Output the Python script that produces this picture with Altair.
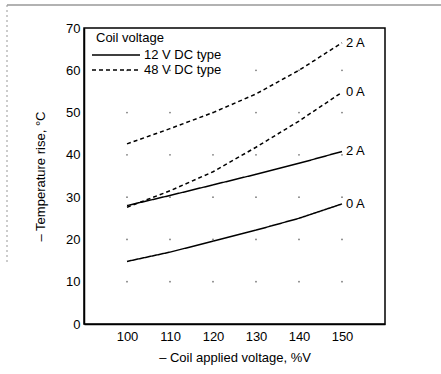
import altair as alt
import pandas as pd

# ---- data ----
x_vals = [100, 110, 120, 130, 140, 150]
v12_0a = [14.8, 17.0, 19.6, 22.2, 25.0, 28.4]
v12_2a = [28.0, 30.4, 32.9, 35.4, 38.0, 40.8]
v48_0a = [27.6, 31.5, 36.0, 41.8, 48.0, 54.8]
v48_2a = [42.6, 46.2, 50.0, 54.4, 60.0, 66.5]
series_values = [v12_0a, v12_2a, v48_0a, v48_2a]
series_types = ["12 V DC type", "12 V DC type", "48 V DC type", "48 V DC type"]
series_currents = ["0 A", "2 A", "0 A", "2 A"]
legend_title = "Coil voltage"
legend_types = ["12 V DC type", "48 V DC type"]
x_ticks = [100, 110, 120, 130, 140, 150]
y_ticks = [0, 10, 20, 30, 40, 50, 60, 70]
grid_x = [100, 110, 120, 130, 140, 150]
grid_y = [10, 20, 30, 40, 50, 60]

FONT = "Liberation Sans"

rows = []
for vals, t, c in zip(series_values, series_types, series_currents):
    for xv, yv in zip(x_vals, vals):
        rows.append({"x": xv, "y": yv, "type": t, "series": t + " " + c, "cur": c})
df = pd.DataFrame(rows)
last = df[df["x"] == x_vals[-1]]
grid = pd.DataFrame([{"x": gx, "y": gy} for gx in grid_x for gy in grid_y])

xscale = alt.Scale(domain=[90, 160], nice=False, zero=False)
yscale = alt.Scale(domain=[0, 70], nice=False)
dash = alt.Scale(domain=legend_types, range=[[1, 0], [4, 3]])

xaxis = alt.Axis(values=x_ticks, title="– Coil applied voltage, %V", grid=False,
                 ticks=False, labelFont=FONT, labelFontSize=13, labelColor="black",
                 titleFont=FONT, titleFontSize=13, titleFontWeight="normal",
                 titleColor="black", labelPadding=6, titlePadding=8,
                 domainColor="black", domainWidth=1.5)
yaxis = alt.Axis(values=y_ticks, title="– Temperature rise, °C", grid=False,
                 ticks=False, labelFont=FONT, labelFontSize=13, labelColor="black",
                 titleFont=FONT, titleFontSize=13, titleFontWeight="normal",
                 titleColor="black", labelPadding=4, titlePadding=18,
                 domainColor="black", domainWidth=1.5)

dots = alt.Chart(grid).mark_point(filled=True, size=3, color="#555", opacity=0.8).encode(
    x=alt.X("x:Q", scale=xscale, axis=xaxis),
    y=alt.Y("y:Q", scale=yscale, axis=yaxis),
)

lines = alt.Chart(df).mark_line(color="black", strokeWidth=1.5).encode(
    x=alt.X("x:Q", scale=xscale),
    y=alt.Y("y:Q", scale=yscale),
    detail="series:N",
    strokeDash=alt.StrokeDash("type:N", scale=dash, legend=None),
)

labels = alt.Chart(last).mark_text(align="left", dx=4, font=FONT, fontSize=13,
                                   color="black").encode(
    x=alt.X("x:Q", scale=xscale),
    y=alt.Y("y:Q", scale=yscale),
    text="cur:N",
)

leg_title = alt.Chart(pd.DataFrame({"t": [legend_title]})).mark_text(
    align="left", baseline="middle", font=FONT, fontSize=13, color="black").encode(
    x=alt.value(12), y=alt.value(10), text="t:N")

leg_layers = []
for i, t in enumerate(legend_types):
    ypos = 27 + 15 * i
    d = pd.DataFrame({"type": [t]})
    leg_layers.append(
        alt.Chart(d).mark_rule(color="black", strokeWidth=1.5).encode(
            x=alt.value(8), x2=alt.value(56), y=alt.value(ypos),
            strokeDash=alt.StrokeDash("type:N", scale=dash, legend=None),
        )
    )
    leg_layers.append(
        alt.Chart(d).mark_text(align="left", baseline="middle", font=FONT,
                               fontSize=13, color="black").encode(
            x=alt.value(60), y=alt.value(ypos), text="type:N")
    )

# scanned-page border remnants (decoration)
dummy = pd.DataFrame({"a": [0]})
top_border = alt.Chart(dummy).mark_rule(color="#666", strokeWidth=1.2).encode(
    x=alt.value(-77), x2=alt.value(357), y=alt.value(-23))
left_border = alt.Chart(dummy).mark_rule(color="#999", strokeWidth=1,
                                         strokeDash=[2, 3]).encode(
    x=alt.value(-77), y=alt.value(-23), y2=alt.value(237))

chart = alt.layer(top_border, left_border, dots, lines, labels, leg_title,
                  *leg_layers).properties(
    width=301, height=296,
    autosize=alt.AutoSizeParams(type="none"),
    padding={"left": 84, "top": 28, "right": 56, "bottom": 50},
    background="white",
).configure_view(stroke="black", strokeWidth=1.5)

chart.save("out.html", embed_options={"renderer": "svg", "actions": False})
